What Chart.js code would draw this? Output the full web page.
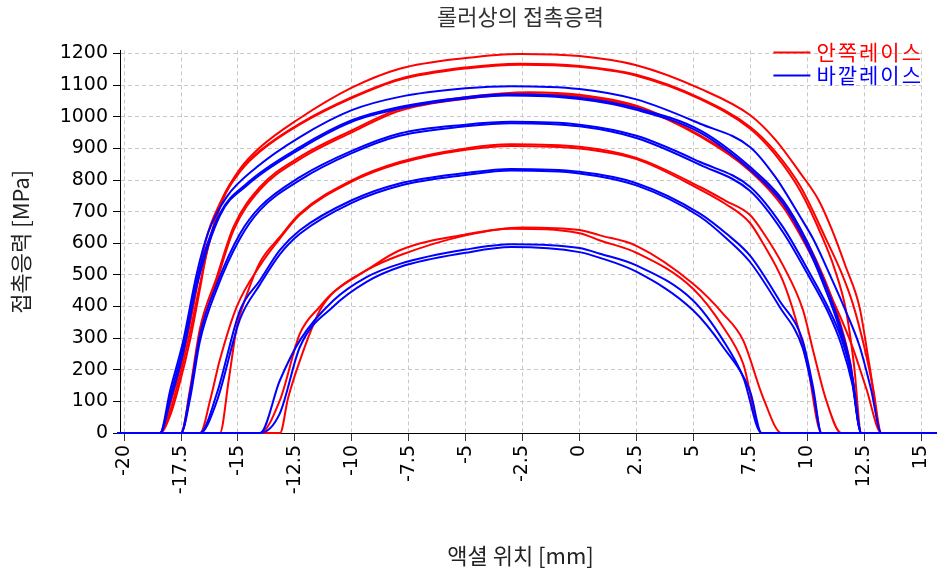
<!DOCTYPE html>
<html><head><meta charset="utf-8">
<script src="https://cdn.jsdelivr.net/npm/chart.js@4.4.0/dist/chart.umd.min.js"></script>
<style>html,body{margin:0;padding:0;background:#fff;}#wrap{width:937px;height:579px;position:relative;}</style>
</head><body><div id="wrap"><canvas id="c" width="937" height="579"></canvas></div>
<script>
// ---- data ----
const chartTitle = '롤러상의 접촉응력';
const xTitle = '액셜 위치 [mm]';
const yTitle = '접촉응력 [MPa]';
const seriesNames = ['안쪽레이스', '바깥레이스'];
const xTicks = [-20, -17.5, -15, -12.5, -10, -7.5, -5, -2.5, 0, 2.5, 5, 7.5, 10, 12.5, 15];
const yTicks = [0, 100, 200, 300, 400, 500, 600, 700, 800, 900, 1000, 1100, 1200];
const axialStart = -20.3, axialEnd = 15.7;

// inner race (red) curves: [axial position mm, contact stress MPa]
const innerA1 = [[-18.42,0],[-17.98,90],[-17.5,215],[-17.0,385],[-16.4,612],[-15.8,725],[-14.9,836],[-14.0,905],[-12.4,990],[-10,1092],[-7.9,1152],[-5,1186],[-2.6,1199],[0,1192],[2.5,1163],[5.3,1089],[7.5,1005],[8.6,928],[9.7,822],[10.5,737],[11.1,641],[11.7,525],[12.3,398],[12.75,208],[13.26,0]];
const innerA2 = [[-18.42,0],[-17.98,55],[-17.55,160],[-17.1,295],[-16.67,455],[-16.35,580],[-15.64,746],[-14.9,830],[-14.03,893],[-12.3,978],[-10,1062],[-7.9,1120],[-5,1156],[-2.6,1168],[0,1161],[2.5,1133],[5.3,1059],[7.5,968],[8.6,890],[9.7,780],[10.85,610],[11.5,508],[12.0,410],[12.5,275],[12.9,140],[13.26,0]];
const innerA3 = [[-18.42,0],[-17.98,70],[-17.55,180],[-17.1,320],[-16.67,470],[-16.3,590],[-15.64,742],[-14.9,827],[-14.03,890],[-12.3,975],[-10,1059],[-7.9,1117],[-5,1153],[-2.6,1165],[0,1158],[2.5,1130],[5.3,1056],[7.5,962],[8.6,880],[9.7,765],[10.6,630],[11.2,520],[11.7,390],[12.05,220],[12.38,0]];
const innerB1 = [[-17.5,0],[-17.1,140],[-16.67,330],[-15.93,493],[-15.2,651],[-14.03,778],[-12.28,873],[-10,957],[-7.9,1025],[-5,1062],[-2.2,1078],[0,1070],[2.5,1035],[5.3,941],[7.5,835],[8.94,730],[9.97,609],[10.8,480],[11.4,360],[11.9,220],[12.38,0]];
const innerB2 = [[-17.5,0],[-17.1,120],[-16.67,310],[-15.93,480],[-15.2,640],[-14.03,770],[-12.28,866],[-10,951],[-7.9,1019],[-5,1057],[-2.4,1072],[0,1065],[2.5,1030],[5.3,938],[7.5,828],[8.94,715],[9.97,590],[10.8,470],[11.5,360],[12.0,270],[12.6,140],[13.26,0]];
const innerC1 = [[-15.79,0],[-15.4,170],[-15.05,335],[-14.6,440],[-14.03,540],[-13.16,620],[-12.28,694],[-10,799],[-7.9,857],[-5,900],[-3,913],[0,905],[2.5,870],[5.3,778],[6.4,735],[7.48,690],[8.06,635],[8.94,530],[9.82,388],[10.26,261],[10.84,103],[11.5,0]];
const innerC2 = [[-16.66,0],[-16.2,110],[-15.8,230],[-15.05,400],[-14.03,530],[-13.16,615],[-12.28,690],[-10,795],[-7.9,853],[-5,896],[-3,908],[0,900],[2.5,866],[5.3,770],[6.4,725],[7.48,665],[8.06,600],[8.94,480],[9.5,360],[10.0,220],[10.63,0]];
const innerD1 = [[-13.15,0],[-12.8,110],[-12.28,229],[-11.4,388],[-10.8,445],[-9.35,515],[-7.89,562],[-5,625],[-2.5,650],[0,642],[0.9,625],[2.5,592],[4.99,472],[6.31,377],[7.19,293],[8.06,113],[8.88,0]];
const innerD2 = [[-14.03,0],[-13.16,103],[-12.28,314],[-11.4,400],[-10.81,445],[-9.35,515],[-7.89,578],[-5,628],[-3,646],[0,632],[0.9,609],[2.5,570],[4.99,456],[6.31,335],[7.19,219],[8.0,0]];

// outer race (blue) curves
const outerA1 = [[-18.42,0],[-17.98,134],[-17.4,293],[-16.81,504],[-16.3,635],[-15.5,746],[-14.17,841],[-12.28,936],[-10,1021],[-7.9,1063],[-5,1090],[-3,1097],[0,1088],[2.5,1055],[5.3,978],[7.5,904],[8.6,810],[9.7,683],[10.3,609],[11.0,500],[11.7,385],[12.3,275],[12.8,140],[13.26,0]];
const outerA2 = [[-18.42,0],[-17.98,115],[-17.4,275],[-16.81,485],[-15.79,694],[-14.61,789],[-12.28,904],[-10,989],[-7.9,1031],[-5,1062],[-3.2,1071],[0,1060],[2.5,1027],[5.3,957],[7.5,841],[8.94,736],[9.97,609],[10.8,470],[11.4,350],[11.9,215],[12.38,0]];
const outerA3 = [[-18.42,0],[-17.98,100],[-17.4,255],[-16.81,465],[-15.79,688],[-14.61,783],[-12.28,898],[-10,984],[-7.9,1026],[-5,1058],[-3.2,1067],[0,1056],[2.5,1022],[5.3,950],[7.5,832],[8.94,725],[9.97,596],[10.8,455],[11.4,335],[11.9,200],[12.38,0]];
const outerB1 = [[-17.5,0],[-17.1,130],[-16.67,310],[-15.93,470],[-14.91,630],[-14.03,715],[-12.28,809],[-10,892],[-7.9,947],[-5,975],[-3,984],[0,975],[2.5,940],[5.3,857],[7.5,778],[8.94,651],[10.0,520],[10.9,400],[11.5,300],[12.0,170],[12.38,0]];
const outerB2 = [[-17.5,0],[-17.1,110],[-16.67,290],[-15.93,455],[-14.91,615],[-14.03,705],[-12.28,800],[-10,885],[-7.9,940],[-5,970],[-3,980],[0,970],[2.5,933],[5.3,848],[7.5,765],[8.94,635],[10.0,505],[10.9,385],[11.5,280],[12.0,150],[12.38,0]];
const outerC1 = [[-16.66,0],[-15.93,124],[-14.91,388],[-14.03,483],[-13.16,578],[-12.28,641],[-10,736],[-7.9,789],[-5,822],[-3,835],[0,826],[2.5,790],[5.29,694],[6.46,630],[7.5,560],[8.78,419],[9.8,293],[10.26,145],[10.63,0]];
const outerC2 = [[-16.66,0],[-15.93,100],[-14.91,360],[-14.03,470],[-13.16,565],[-12.28,630],[-10,728],[-7.9,782],[-5,816],[-3,830],[0,821],[2.5,783],[5.3,684],[6.46,615],[7.5,540],[8.78,400],[9.8,270],[10.26,130],[10.63,0]];
const outerD1 = [[-14.03,0],[-13.16,166],[-12.28,293],[-10.81,419],[-9.35,493],[-7.89,535],[-5,580],[-3,597],[0,585],[0.9,567],[2.5,530],[4.99,419],[6.31,293],[7.19,177],[8.0,0]];
const outerD2 = [[-14.03,0],[-13.16,62],[-12.28,272],[-10.81,400],[-9.35,478],[-7.89,525],[-5,570],[-3,588],[0,572],[0.9,554],[2.5,510],[4.99,388],[6.31,272],[7.5,130],[8.0,0]];

const innerCurves = [innerA1, innerA2, innerA3, innerB1, innerB2, innerC1, innerC2, innerD1, innerD2];
const outerCurves = [outerA1, outerA2, outerA3, outerB1, outerB2, outerC1, outerC2, outerD1, outerD2];
const seriesColors = ['#ff0000', '#0000ff'];

// ---- chart ----
const toPts = arr => [[axialStart, 0], ...arr, [axialEnd, 0]].map(p => ({x: p[0], y: p[1]}));
const mk = (arr, i, color, order) => ({
  label: seriesNames[order === 2 ? 0 : 1] + ' ' + (i + 1),
  data: toPts(arr), borderColor: color, backgroundColor: color,
  borderWidth: 2, pointRadius: 0, cubicInterpolationMode: 'monotone', fill: false, clip: false, order: order
});
const datasets = [
  ...innerCurves.map((a, i) => mk(a, i, seriesColors[0], 2)),
  ...outerCurves.map((a, i) => mk(a, i, seriesColors[1], 1))
];

const tickFont = {family: '"DejaVu Sans", sans-serif', size: 19};
const titleFont = {family: '"Noto Sans CJK KR", sans-serif', size: 22, weight: 'normal'};

const legendPlugin = {
  id: 'cornerLegend',
  afterDraw(chart) {
    const ctx = chart.ctx, a = chart.chartArea;
    ctx.save();
    ctx.font = '21px "Noto Sans CJK KR", sans-serif';
    if ('letterSpacing' in ctx) ctx.letterSpacing = '2px';
    ctx.textAlign = 'right';
    ctx.textBaseline = 'middle';
    seriesNames.forEach((name, i) => {
      const y = a.top + 2 + i * 23;
      const w = ctx.measureText(name).width;
      const right = a.right + 2;
      ctx.fillStyle = seriesColors[i];
      ctx.fillText(name, right, y);
      ctx.strokeStyle = seriesColors[i];
      ctx.lineWidth = 2;
      ctx.beginPath();
      ctx.moveTo(right - w - 43, y);
      ctx.lineTo(right - w - 6, y);
      ctx.stroke();
    });
    ctx.restore();
  }
};

new Chart(document.getElementById('c'), {
  type: 'line',
  data: {datasets},
  plugins: [legendPlugin],
  options: {
    responsive: false, animation: false, devicePixelRatio: 1,
    layout: {padding: {left: 0, right: 16, top: 0, bottom: 0}},
    plugins: {
      legend: {display: false}, tooltip: {enabled: false},
      title: {display: true, text: chartTitle, fullSize: false, color: '#333',
        font: {family: '"Noto Sans CJK KR", sans-serif', size: 22, weight: 'normal'},
        padding: {top: 3, bottom: 21}}
    },
    scales: {
      x: {
        type: 'linear', min: -20.18, max: 15,
        afterBuildTicks: s => { s.ticks = xTicks.map(v => ({value: v})); },
        afterFit: s => { s.height = 146; s.paddingRight = 0; s.paddingLeft = 0; },
        ticks: {color: '#000', font: tickFont, minRotation: 90, maxRotation: 90, padding: 4, autoSkip: false,
          callback: v => String(v)},
        grid: {color: '#c8c8c8', lineWidth: 1, tickLength: 8, tickColor: '#333', tickBorderDash: [1, 0]},
        border: {display: true, color: '#000', width: 1, dash: [4, 3]},
        title: {display: true, text: xTitle, color: '#222', font: titleFont, padding: {top: 0, bottom: 10}}
      },
      y: {
        type: 'linear', min: 0, max: 1210,
        afterBuildTicks: s => { s.ticks = yTicks.map(v => ({value: v})); },
        afterFit: s => { s.width = 120; },
        ticks: {color: '#000', font: tickFont, padding: 5, autoSkip: false, callback: v => String(v)},
        grid: {color: '#c8c8c8', lineWidth: 1, tickLength: 7, tickColor: '#000', tickBorderDash: [1, 0]},
        border: {display: true, color: '#000', width: 1, dash: [4, 3]},
        title: {display: true, text: yTitle, color: '#222', font: titleFont, padding: {top: 7, bottom: 0}}
      }
    }
  }
});
</script></body></html>
